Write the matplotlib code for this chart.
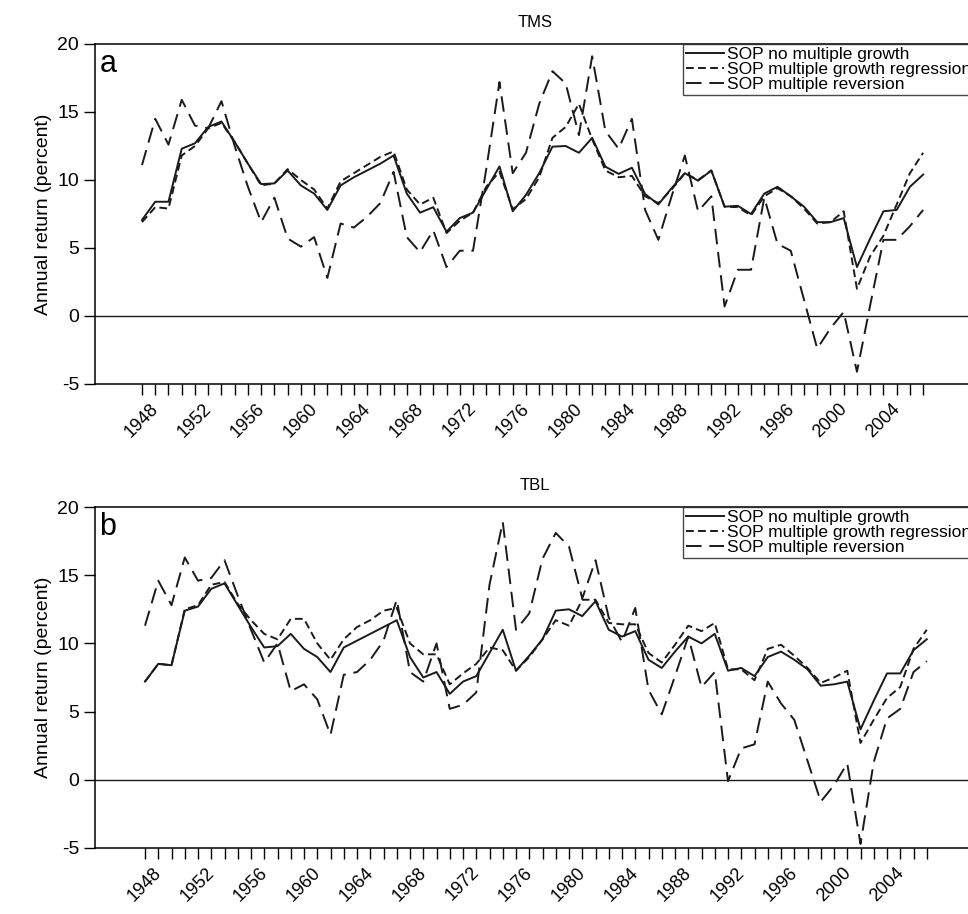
import matplotlib.pyplot as plt
import numpy as np

plt.rcParams['font.family'] = ['Liberation Sans', 'DejaVu Sans']

years = np.arange(1948, 2008)
tick_years = list(range(1948, 2005, 4))

tms_no_growth = [7.06, 8.4, 8.4, 12.3, 12.7, 13.9, 14.3, 12.8, 11.2, 9.7,
                 9.75, 10.7, 9.6, 9.0, 7.8, 9.6, 10.2, 10.7, 11.2, 11.8,
                 9.0, 7.6, 8.0, 6.2, 7.2, 7.6, 9.3, 11.0, 7.7, 8.9,
                 10.5, 12.45, 12.5, 12.0, 13.1, 10.98, 10.45, 10.9, 8.97, 8.2,
                 9.4, 10.5, 9.95, 10.7, 8.04, 8.1, 7.5, 9.0, 9.5, 8.8,
                 8.04, 6.9, 6.9, 7.2, 3.6, 5.7, 7.7, 7.8, 9.5, 10.4]
tms_regression = [6.9, 8.0, 7.9, 11.8, 12.5, 13.8, 14.2, 12.8, 11.2, 9.6,
                  9.75, 10.8, 10.0, 9.3, 7.9, 9.9, 10.5, 11.1, 11.7, 12.1,
                  9.3, 8.2, 8.7, 6.1, 7.0, 7.6, 9.5, 10.6, 7.85, 8.6,
                  10.2, 13.1, 13.9, 15.6, 13.0, 10.7, 10.2, 10.3, 8.8, 8.3,
                  9.3, 10.5, 10.0, 10.7, 8.04, 8.0, 7.4, 8.8, 9.4, 8.8,
                  7.9, 6.8, 6.9, 7.7, 2.0, 4.4, 5.9, 8.2, 10.5, 12.0]
tms_reversion = [11.1, 14.5, 12.6, 15.9, 14.0, 13.8, 15.8, 12.5, 9.5, 6.9,
                 8.7, 5.7, 5.1, 5.8, 2.8, 6.8, 6.5, 7.3, 8.3, 10.6,
                 5.8, 4.7, 6.3, 3.6, 4.8, 4.8, 10.8, 17.2, 10.5, 12.0,
                 15.6, 18.0, 17.1, 13.3, 19.1, 13.6, 12.3, 14.5, 7.8, 5.6,
                 8.8, 11.8, 7.7, 8.8, 0.7, 3.4, 3.4, 8.7, 5.3, 4.8,
                 1.2, -2.4, -0.9, 0.3, -4.1, 0.8, 5.6, 5.6, 6.6, 7.8]

tbl_no_growth = [7.2, 8.5, 8.4, 12.4, 12.7, 14.0, 14.4, 12.8, 11.2, 9.7,
                 9.8, 10.7, 9.6, 9.0, 7.9, 9.7, 10.2, 10.7, 11.2, 11.7,
                 9.0, 7.5, 7.9, 6.3, 7.2, 7.6, 9.3, 11.0, 8.0, 9.1,
                 10.3, 12.4, 12.5, 12.0, 13.1, 11.0, 10.5, 10.9, 8.8, 8.2,
                 9.4, 10.5, 10.0, 10.7, 8.0, 8.2, 7.6, 9.0, 9.4, 8.8,
                 8.1, 6.9, 7.0, 7.2, 3.7, 5.8, 7.8, 7.8, 9.5, 10.3]
tbl_regression = [7.2, 8.5, 8.4, 12.5, 12.8, 14.3, 14.5, 12.9, 11.7, 10.7,
                  10.3, 11.8, 11.8, 10.0, 8.8, 10.3, 11.2, 11.7, 12.4, 12.6,
                  10.0, 9.2, 9.2, 7.0, 7.8, 8.5, 9.7, 9.5, 8.0, 9.0,
                  10.3, 11.7, 11.3, 13.2, 13.2, 11.5, 11.4, 11.4, 9.3, 8.6,
                  9.9, 11.3, 10.9, 11.5, 8.1, 8.1, 7.3, 9.6, 9.9, 9.1,
                  8.2, 7.1, 7.5, 8.0, 2.7, 4.4, 6.0, 6.8, 9.6, 11.0]
tbl_reversion = [11.3, 14.6, 12.8, 16.3, 14.6, 14.8, 16.1, 13.5, 11.0, 8.6,
                 10.0, 6.5, 7.0, 5.9, 3.3, 7.7, 7.9, 8.8, 10.2, 13.2,
                 7.9, 7.2, 10.0, 5.2, 5.5, 6.4, 14.3, 18.9, 11.0, 12.2,
                 16.2, 18.1, 17.1, 13.3, 16.1, 11.9, 10.1, 12.6, 6.6, 4.8,
                 7.6, 10.5, 6.8, 7.9, -0.1, 2.3, 2.6, 7.2, 5.6, 4.4,
                 1.4, -1.6, -0.4, 1.2, -4.7, 1.3, 4.5, 5.2, 7.9, 8.7]

labels = ['SOP no multiple growth', 'SOP multiple growth regression',
          'SOP multiple reversion']

W, H = 968, 914
fig = plt.figure(figsize=(W / 100, H / 100), dpi=100)


def panel(px_top, px_bottom, first_px, step, title, letter, series):
    left, right = 95, 975
    ax = fig.add_axes([left / W, 1 - px_bottom / H, (right - left) / W,
                       (px_bottom - px_top) / H])
    x0 = -(first_px - left) / step
    ax.set_xlim(years[0] + x0, years[0] + x0 + (right - left) / step)
    ax.set_ylim(-5, 20)
    styles = ['-', (0, (4, 2.2)), (0, (8, 4))]
    for vals, ls, lab in zip(series, styles, labels):
        ax.plot(years, vals, color='#1a1a1a', lw=1.4, ls=ls, label=lab)
    ax.axhline(0, color='#1a1a1a', lw=1.0)
    ax.set_xticks(years, minor=True)
    ax.set_xticks(tick_years)
    ax.set_xticklabels([str(y) for y in tick_years], rotation=45, fontsize=13)
    ax.tick_params(axis='x', which='both', direction='out', length=8, width=1)
    ax.set_yticks([-5, 0, 5, 10, 15, 20])
    ax.set_yticklabels(['-5', '0', '5', '10', '15', '20'], fontsize=14)
    ax.tick_params(axis='y', direction='out', length=8, width=1)
    for s in ax.spines.values():
        s.set_linewidth(1.1)
    ax.set_ylabel('Annual return (percent)', fontsize=14)
    ax.set_title(title, fontsize=12, pad=12)
    ax.text(0.005, 0.985, letter, transform=ax.transAxes, fontsize=22,
            va='top', ha='left')
    leg = ax.legend(loc='upper left', bbox_to_anchor=((683 - left) / (right - left), 1.0),
                    fontsize=12.5, frameon=True, fancybox=False,
                    edgecolor='#1a1a1a', borderpad=0.15, labelspacing=0.0,
                    handlelength=2.2, handletextpad=0.2, borderaxespad=0)
    leg.get_frame().set_linewidth(1.0)
    return ax


panel(44, 384, 142, 13.24, 'TMS', 'a',
      [tms_no_growth, tms_regression, tms_reversion])
panel(507, 848, 145, 13.25, 'TBL', 'b',
      [tbl_no_growth, tbl_regression, tbl_reversion])

fig.savefig('out.png', dpi=100)
